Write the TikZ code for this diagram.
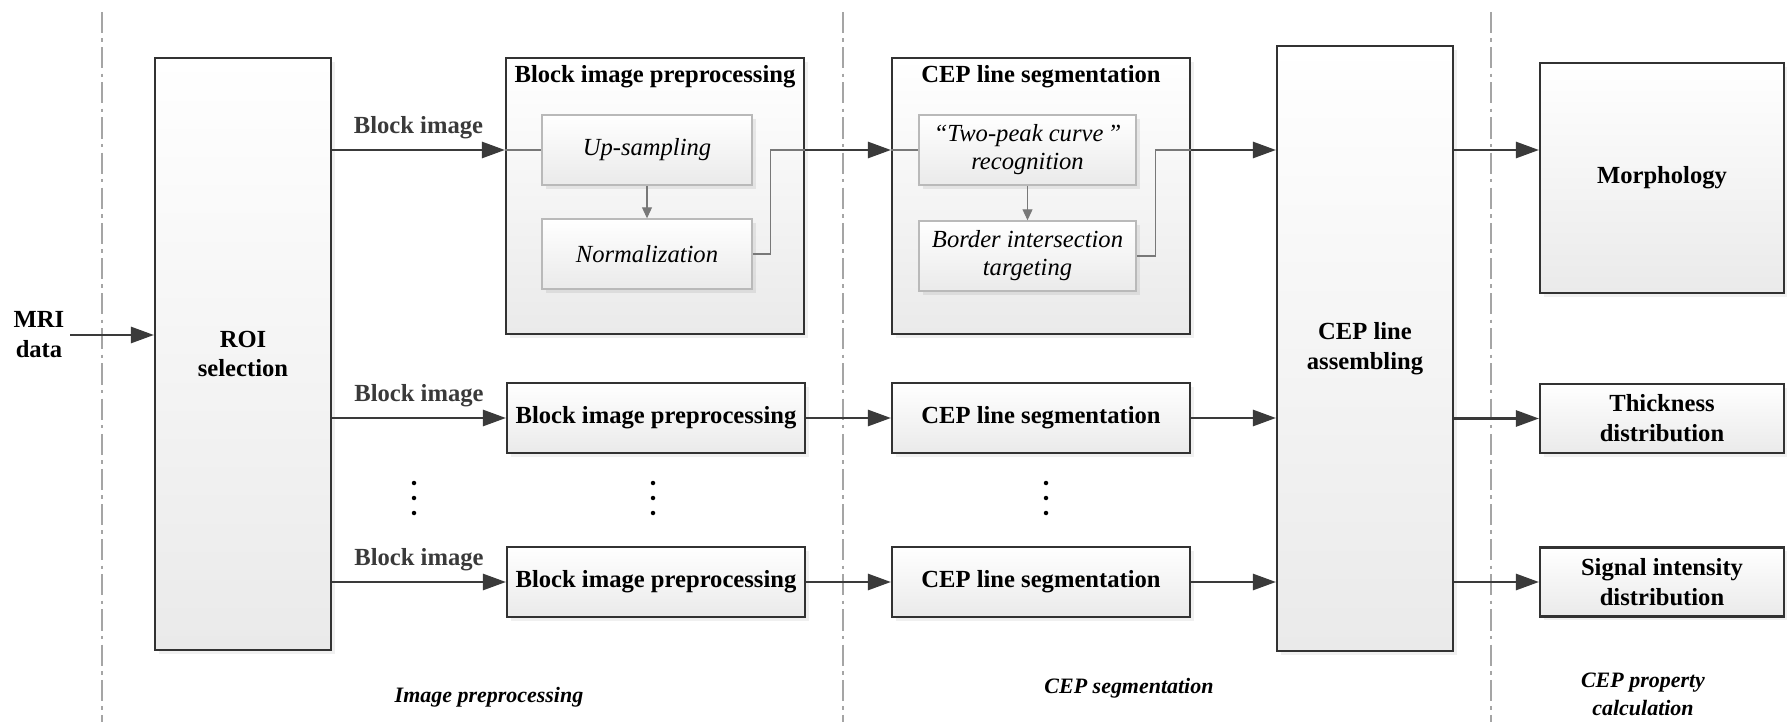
\documentclass[tikz,border=0pt]{standalone}
\usepackage{fontspec}
\setmainfont{Liberation Serif}
\usepackage{tikz}
\usetikzlibrary{arrows.meta,shapes,positioning,shadows}
\usepackage{xcolor}
\definecolor{pipedark}{RGB}{58,58,58}
\definecolor{pipegray}{RGB}{120,120,120}
\definecolor{pipeborder}{RGB}{50,50,50}
\definecolor{pipesub}{RGB}{185,185,185}
\definecolor{pipefill}{RGB}{234,234,234}
\definecolor{pipesep}{RGB}{165,165,165}
\tikzstyle{arrow} = [line width=1.5pt,-{Triangle[length=0.46cm,width=0.32cm]},color=pipedark]
\tikzstyle{thinline} = [line width=0.6pt,color=pipegray]
\tikzstyle{thinarrow} = [line width=0.6pt,-{Triangle[length=0.22cm,width=0.2cm]},color=pipegray]
\tikzstyle{sepline} = [line width=0.7pt,color=pipesep,dash pattern=on 12pt off 3pt on 2pt off 3pt]
\tikzstyle{stage} = [rectangle, draw=pipeborder, line width=1.2pt, top color=white, bottom color=pipefill, drop shadow={shadow xshift=2pt,shadow yshift=-2pt,opacity=0.12}, align=center, inner sep=0pt, font=\fontsize{14}{17}\selectfont\bfseries]
\tikzstyle{substep} = [rectangle, draw=pipesub, line width=0.8pt, top color=white, bottom color=pipefill, drop shadow={shadow xshift=2pt,shadow yshift=-2pt,opacity=0.15}, align=center, inner sep=0pt, font=\fontsize{14}{16}\selectfont\itshape]
\tikzstyle{lbl} = [font=\fontsize{14}{17}\selectfont\bfseries, align=center]
\tikzstyle{phase} = [font=\fontsize{12.5}{16}\selectfont\bfseries\itshape, align=center]

\begin{document}
\begin{tikzpicture}
\useasboundingbox (0,0) rectangle (35.74,-14.44);
% Phase separators
\draw[sepline] (2.04,-0.24) -- (2.04,-14.44);
\draw[sepline] (16.86,-0.24) -- (16.86,-14.44);
\draw[sepline] (29.82,-0.24) -- (29.82,-14.44);

% Input and ROI
\node[lbl] (mri) at (0.78,-6.70) {MRI\\data};
\node[stage, minimum width=3.52cm, minimum height=11.84cm] (roi) at (4.86,-7.08) {ROI\\selection};

% Block image preprocessing (detailed)
\node[stage, minimum width=5.96cm, minimum height=5.52cm] (bip1) at (13.10,-3.92) {};
\node[lbl] (bip1t) at ([yshift=-0.40cm]bip1.north) {Block image preprocessing};
\node[substep, minimum width=4.20cm, minimum height=1.40cm] (up) at (12.94,-3.00) {Up-sampling};
\node[substep, minimum width=4.20cm, minimum height=1.40cm] (norm) at (12.94,-5.08) {Normalization};

% CEP line segmentation (detailed)
\node[stage, minimum width=5.96cm, minimum height=5.52cm] (seg1) at (20.82,-3.92) {};
\node[lbl] (seg1t) at ([yshift=-0.40cm]seg1.north) {CEP line segmentation};
\node[substep, minimum width=4.34cm, minimum height=1.40cm] (peak) at (20.55,-3.00) {“Two-peak curve\,”\\recognition};
\node[substep, minimum width=4.34cm, minimum height=1.40cm] (border) at (20.55,-5.12) {Border intersection\\targeting};

% Other blocks
\node[stage, minimum width=5.96cm, minimum height=1.40cm] (bip2) at (13.12,-8.36) {Block image preprocessing};
\node[stage, minimum width=5.96cm, minimum height=1.40cm] (bip3) at (13.12,-11.64) {Block image preprocessing};
\node[stage, minimum width=5.96cm, minimum height=1.40cm] (seg2) at (20.82,-8.36) {CEP line segmentation};
\node[stage, minimum width=5.96cm, minimum height=1.40cm] (seg3) at (20.82,-11.64) {CEP line segmentation};

% Assembling and properties
\node[stage, minimum width=3.52cm, minimum height=12.10cm] (asm) at (27.30,-6.97) {CEP line\\assembling};
\node[stage, minimum width=4.88cm, minimum height=4.60cm] (morph) at (33.24,-3.56) {Morphology};
\node[stage, minimum width=4.88cm, minimum height=1.38cm] (thick) at (33.24,-8.37) {Thickness\\distribution};
\node[stage, minimum width=4.88cm, minimum height=1.38cm] (signal) at (33.24,-11.64) {Signal intensity\\distribution};

% Dots
\foreach \dx in {8.28,13.06,20.92}
  \foreach \dy in {-9.66,-9.96,-10.26}
    \fill[black] (\dx,\dy) circle (0.045);

% Connectors
\draw[arrow] (mri.east) -- (roi.west |- mri.east);
\draw[arrow] (roi.east |- up.west) -- node[lbl, above=2pt] {Block image} (bip1.west |- up.west);
\draw[arrow] (roi.east |- bip2.west) -- node[lbl, above=2pt] {Block image} (bip2.west);
\draw[arrow] (roi.east |- bip3.west) -- node[lbl, above=2pt] {Block image} (bip3.west);
\draw[thinline] (bip1.west |- up.west) -- (up.west);
\draw[thinarrow] (up.south) -- (norm.north);
\draw[thinline] (norm.east) -- ++(0.36,0) |- (bip1.east |- up.east);
\draw[arrow] (bip1.east |- up.east) -- (seg1.west |- up.east);
\draw[thinline] (seg1.west |- peak.west) -- (peak.west);
\draw[thinarrow] (peak.south) -- (border.north);
\draw[thinline] (border.east) -- ++(0.38,0) |- (seg1.east |- peak.east);
\draw[arrow] (seg1.east |- peak.east) -- (asm.west |- peak.east);
\draw[arrow] (bip2.east) -- (seg2.west);
\draw[arrow] (bip3.east) -- (seg3.west);
\draw[arrow] (seg2.east) -- (asm.west |- seg2.east);
\draw[arrow] (seg3.east) -- (asm.west |- seg3.east);
\draw[arrow] (asm.east |- peak.east) -- (morph.west |- peak.east);
\draw[arrow] (asm.east |- thick.west) -- (thick.west);
\draw[arrow] (asm.east |- signal.west) -- (signal.west);

% Phase labels
\node[phase] (ph1) at (9.78,-13.94) {Image preprocessing};
\node[phase] (ph2) at (22.58,-13.76) {CEP segmentation};
\node[phase] (ph3) at (32.86,-13.88) {CEP property\\calculation};
\end{tikzpicture}
\end{document}
